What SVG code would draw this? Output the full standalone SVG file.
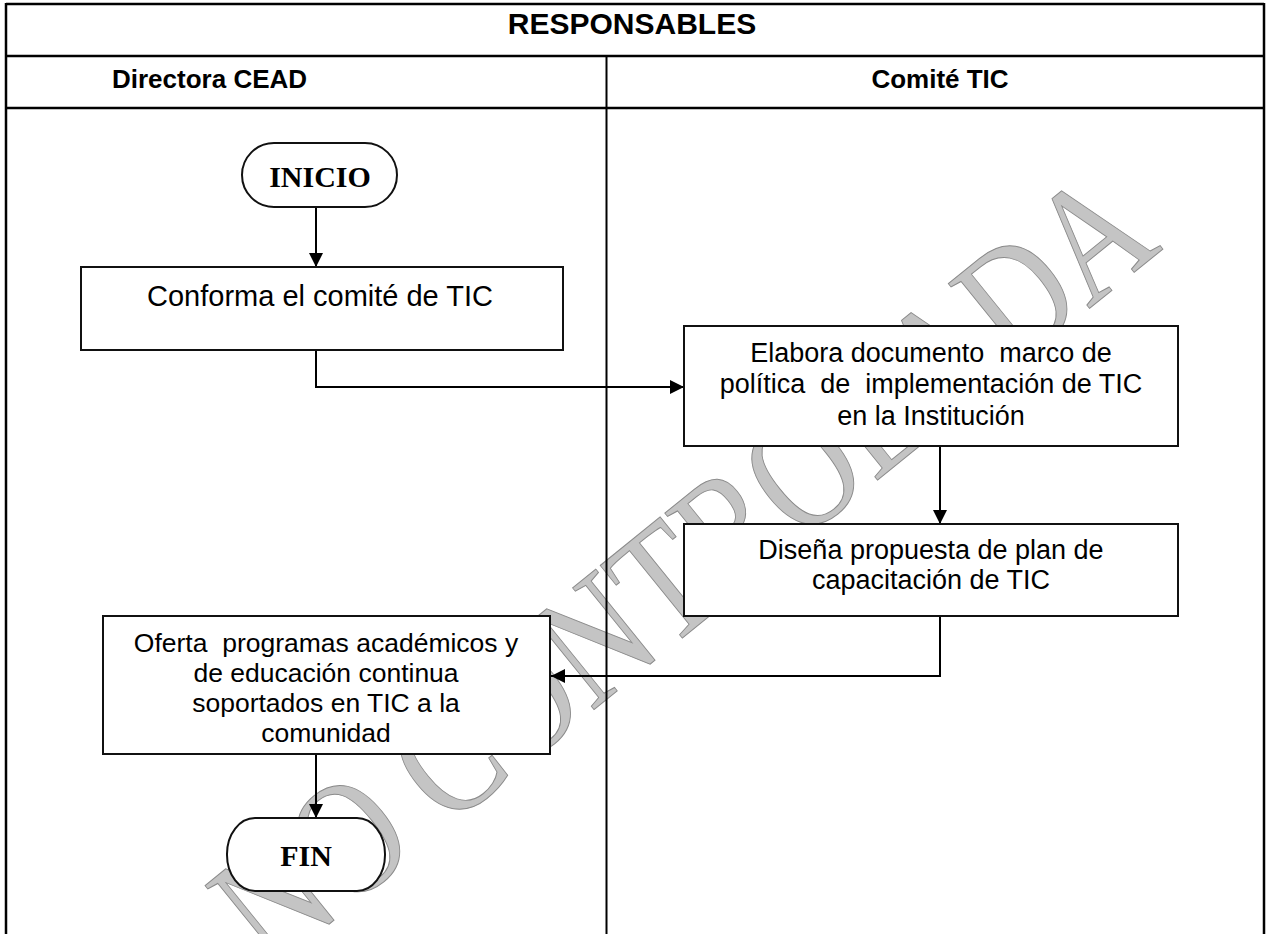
<svg xmlns="http://www.w3.org/2000/svg" width="1267" height="934" viewBox="0 0 1267 934">
<style>
.frame{stroke:#000;stroke-width:2.5;fill:none}
.box{fill:#fff;stroke:#111;stroke-width:2}
.conn{fill:none;stroke:#000;stroke-width:2}
.hdr{font-family:"Liberation Sans",Arial,sans-serif;font-weight:bold;fill:#000}
.txt{font-family:"Liberation Sans",Arial,sans-serif;fill:#000;text-anchor:middle}
.term{font-family:"Liberation Serif","Times New Roman",serif;font-weight:bold;fill:#000;text-anchor:middle;font-size:30px}
.wm{font-family:"Liberation Serif","Times New Roman",serif;font-size:165px;fill:#c4c4c4;stroke:#8a8a8a;stroke-width:1}
</style>
<defs>
<marker id="arr" markerUnits="userSpaceOnUse" markerWidth="15" markerHeight="14" refX="14" refY="7" orient="auto">
<path d="M0,0 L14,7 L0,14 z" fill="#000"/>
</marker>
</defs>
<rect width="1267" height="934" fill="#fff"/>
<g id="watermark">
<text class="wm" x="0" y="0" transform="translate(270,972) rotate(-39)" textLength="1150" lengthAdjust="spacingAndGlyphs">NO CONTROLADA</text>
</g>
<g id="table">
<line class="frame" x1="6" y1="4" x2="1264" y2="4"/>
<line class="frame" x1="6" y1="56" x2="1264" y2="56"/>
<line class="frame" x1="6" y1="108" x2="1264" y2="108"/>
<line class="frame" x1="6" y1="3" x2="6" y2="934"/>
<line class="frame" x1="1264" y1="3" x2="1264" y2="934"/>
<line class="frame" x1="606.5" y1="56" x2="606.5" y2="934" style="stroke-width:2"/>
<text class="hdr" x="632" y="34" font-size="30" text-anchor="middle">RESPONSABLES</text>
<text class="hdr" x="112" y="88" font-size="26">Directora CEAD</text>
<text class="hdr" x="940" y="88" font-size="26" text-anchor="middle">Comité TIC</text>
</g>
<g id="connectors">
<path class="conn" d="M316,207 V267" marker-end="url(#arr)"/>
<path class="conn" d="M316,350 V387 H684" marker-end="url(#arr)"/>
<path class="conn" d="M940,446 V524" marker-end="url(#arr)"/>
<path class="conn" d="M940,616 V676 H551" marker-end="url(#arr)"/>
<path class="conn" d="M316,754 V818" marker-end="url(#arr)"/>
</g>
<g id="inicio">
<rect class="box" x="242" y="143" width="155" height="64" rx="32" ry="32"/>
<text class="term" x="320" y="187">INICIO</text>
</g>
<g id="conforma">
<rect class="box" x="81" y="267" width="482" height="83"/>
<text class="txt" x="320" y="306" font-size="29">Conforma el comité de TIC</text>
</g>
<g id="elabora">
<rect class="box" x="684" y="326" width="494" height="120"/>
<text class="txt" font-size="27" xml:space="preserve"><tspan x="931" y="362">Elabora documento  marco de</tspan><tspan x="931" y="393">política  de  implementación de TIC</tspan><tspan x="931" y="425">en la Institución</tspan></text>
</g>
<g id="disena">
<rect class="box" x="684" y="524" width="494" height="92"/>
<text class="txt" font-size="27"><tspan x="931" y="559">Diseña propuesta de plan de</tspan><tspan x="931" y="589">capacitación de TIC</tspan></text>
</g>
<g id="oferta">
<rect class="box" x="103" y="616" width="447" height="138"/>
<text class="txt" font-size="26.5" xml:space="preserve"><tspan x="326" y="652">Oferta  programas académicos y</tspan><tspan x="326" y="682">de educación continua</tspan><tspan x="326" y="712">soportados en TIC a la</tspan><tspan x="326" y="742">comunidad</tspan></text>
</g>
<g id="fin">
<rect class="box" x="227" y="818" width="158" height="73" rx="28" ry="36"/>
<text class="term" x="306" y="866">FIN</text>
</g>
</svg>
